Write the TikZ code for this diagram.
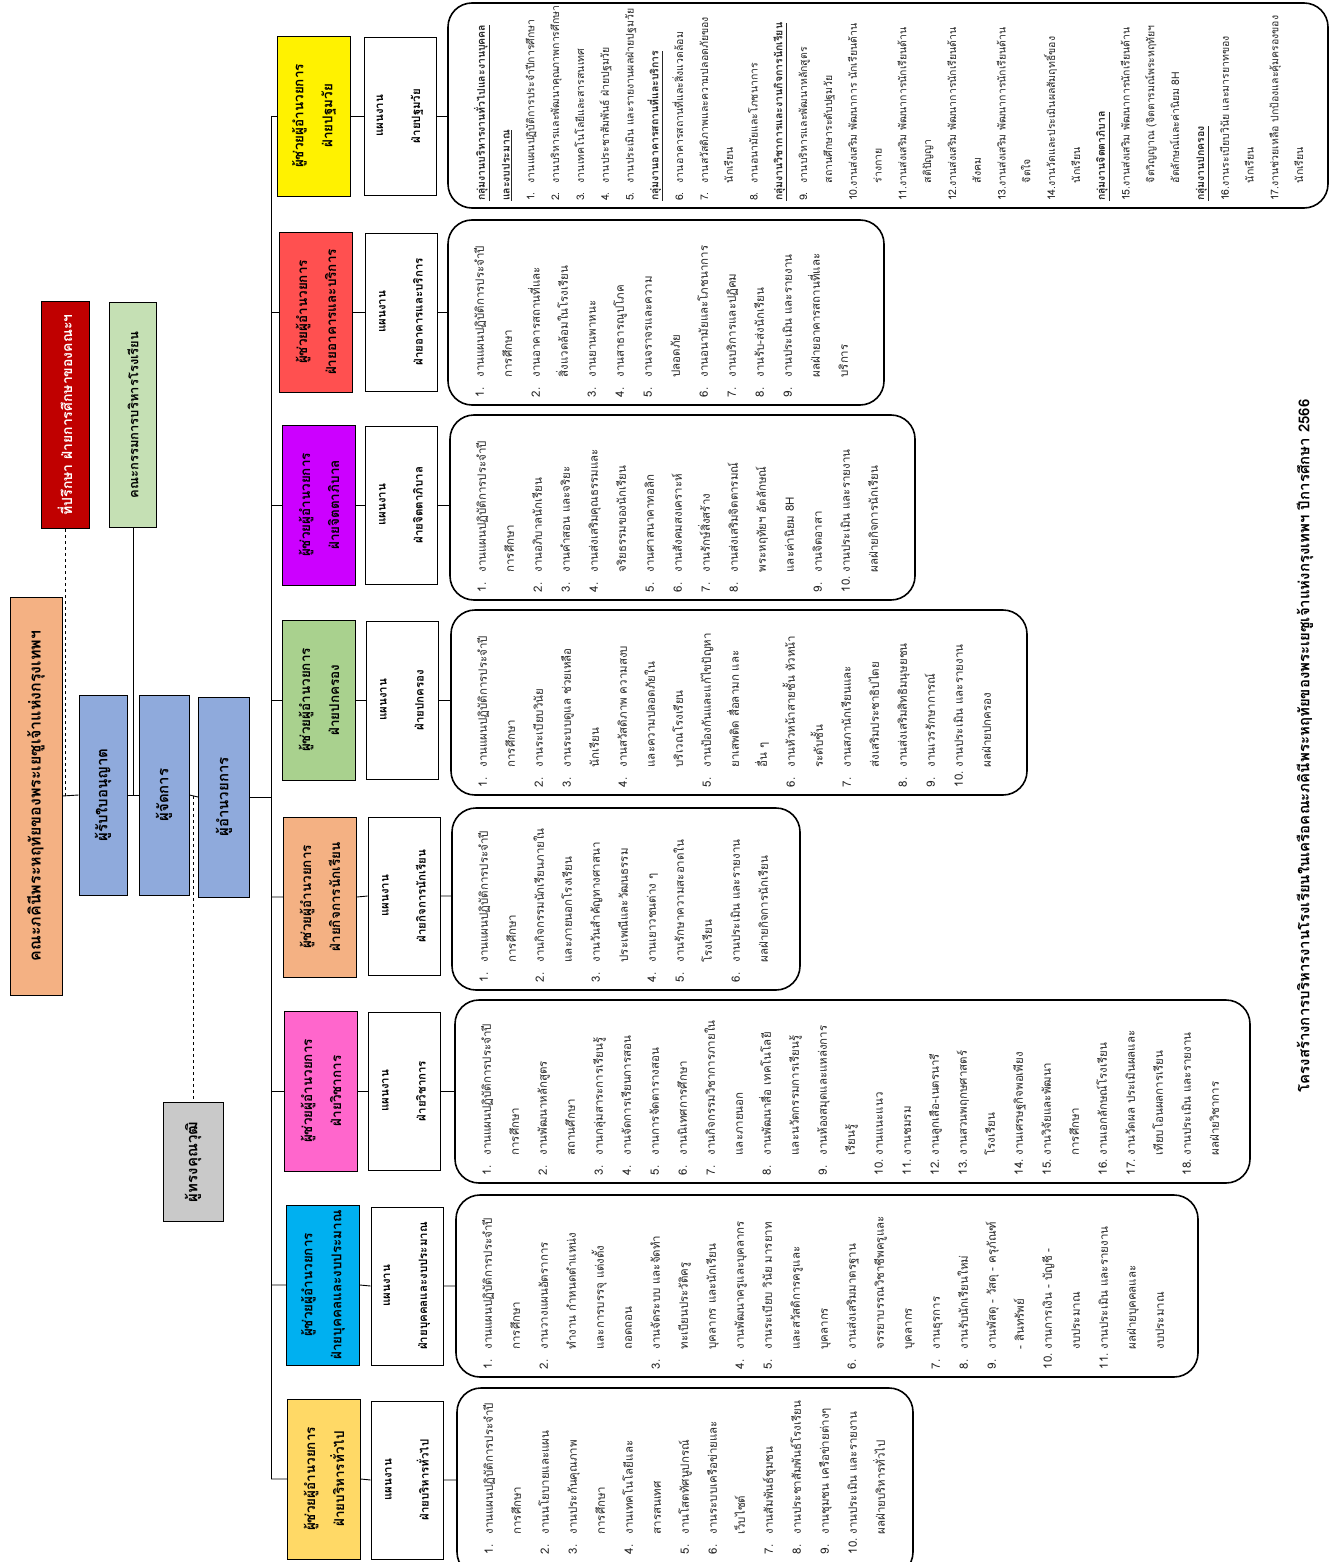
\documentclass[tikz,border=0pt]{standalone}
\usepackage{fontspec}
\setmainfont[Script=Thai]{Loma}
\usetikzlibrary{calc}
\definecolor{peach}{HTML}{F4B183}
\definecolor{darkred}{HTML}{C00000}
\definecolor{palegreen}{HTML}{C5E0B4}
\definecolor{bluebox}{HTML}{8FAADC}
\definecolor{graybox}{HTML}{C9C9C9}
\definecolor{gold}{HTML}{FFD966}
\definecolor{skyblue}{HTML}{00B0F0}
\definecolor{pinkbox}{HTML}{FF66CC}
\definecolor{leaf}{HTML}{A9D18E}
\definecolor{violet}{HTML}{CC00FF}
\definecolor{redbox}{HTML}{FF5050}
\newcommand\li[2]{\mbox{\makebox[1.7em][l]{#1}#2}}
\newcommand\lj[2]{\mbox{#1#2}}
\newcommand\grp[1]{\mbox{\underline{\textbf{#1}}}}
\newcommand\dlist[3]{\begin{minipage}[c][#2][t]{#1}\raggedright #3\end{minipage}}
\tikzset{
  link/.style={line width=0.9pt},
  topbox/.style={draw, line width=1pt, rotate=90, align=center, inner sep=2pt, font=\bfseries\fontsize{13}{16}\selectfont},
  headbox/.style={draw, line width=0.9pt, rotate=90, align=center, inner sep=2pt, minimum width=160pt, minimum height=73pt, font=\bfseries\fontsize{13.5}{29}\selectfont},
  planbox/.style={draw, line width=0.9pt, rotate=90, align=center, inner sep=2pt, minimum width=158pt, minimum height=72pt, font=\bfseries\fontsize{11.5}{37}\selectfont},
  detbox/.style={draw, line width=1.6pt, rounded corners=24pt, rotate=90, inner xsep=8pt, inner ysep=26pt, text=black!85, font=\fontsize{11.5}{28}\selectfont}
}
\begin{document}
\begin{tikzpicture}[x=1pt,y=-1pt]
\path[use as bounding box, fill=white] (0,0) rectangle (1330,1562);

\node[topbox, fill=peach, minimum width=398pt, minimum height=52pt, font=\bfseries\fontsize{16}{18}\selectfont] (found) at (36,796) {คณะภคินีพระหฤทัยของพระเยซูเจ้าแห่งกรุงเทพฯ};
\node[topbox, fill=darkred, text=white, minimum width=227pt, minimum height=48pt, font=\bfseries\fontsize{14}{16}\selectfont] (adv) at (65,415) {ที่ปรึกษา ฝ่ายการศึกษาของคณะฯ};
\node[topbox, fill=palegreen, minimum width=225pt, minimum height=47pt] (board) at (133,415) {คณะกรรมการบริหารโรงเรียน};
\node[topbox, fill=bluebox, minimum width=200pt, minimum height=48pt, font=\bfseries\fontsize{15}{18}\selectfont] (lic) at (103,795) {ผู้รับใบอนุญาต};
\node[topbox, fill=bluebox, minimum width=200pt, minimum height=50pt, font=\bfseries\fontsize{15}{18}\selectfont] (mgr) at (164,795) {ผู้จัดการ};
\node[topbox, fill=bluebox, minimum width=200pt, minimum height=51pt, font=\bfseries\fontsize{15}{18}\selectfont] (dir) at (224,797) {ผู้อำนวยการ};
\node[topbox, fill=graybox, minimum width=119pt, minimum height=60pt, font=\bfseries\fontsize{15}{18}\selectfont] (expert) at (193,1162) {ผู้ทรงคุณวุฒิ};

\node[headbox, fill=gold] (h1) at (324,1479) {ผู้ช่วยผู้อำนวยการ\\ฝ่ายบริหารทั่วไป};
\node[headbox, fill=skyblue] (h2) at (323,1285) {ผู้ช่วยผู้อำนวยการ\\ฝ่ายบุคคลและงบประมาณ};
\node[headbox, fill=pinkbox] (h3) at (321,1091) {ผู้ช่วยผู้อำนวยการ\\ฝ่ายวิชาการ};
\node[headbox, fill=peach] (h4) at (320,897) {ผู้ช่วยผู้อำนวยการ\\ฝ่ายกิจการนักเรียน};
\node[headbox, fill=leaf] (h5) at (319,700) {ผู้ช่วยผู้อำนวยการ\\ฝ่ายปกครอง};
\node[headbox, fill=violet] (h6) at (319,505) {ผู้ช่วยผู้อำนวยการ\\ฝ่ายจิตตาภิบาล};
\node[headbox, fill=redbox] (h7) at (316,312) {ผู้ช่วยผู้อำนวยการ\\ฝ่ายอาคารและบริการ};
\node[headbox, fill=yellow] (h8) at (314,116) {ผู้ช่วยผู้อำนวยการ\\ฝ่ายปฐมวัย};

\node[planbox] (p1) at (407,1480) {แผนงาน\\ฝ่ายบริหารทั่วไป};
\node[planbox] (p2) at (407,1286) {แผนงาน\\ฝ่ายบุคคลและงบประมาณ};
\node[planbox] (p3) at (404,1091) {แผนงาน\\ฝ่ายวิชาการ};
\node[planbox] (p4) at (404,896) {แผนงาน\\ฝ่ายกิจการนักเรียน};
\node[planbox] (p5) at (402,700) {แผนงาน\\ฝ่ายปกครอง};
\node[planbox] (p6) at (401,505) {แผนงาน\\ฝ่ายจิตตาภิบาล};
\node[planbox] (p7) at (401,312) {แผนงาน\\ฝ่ายอาคารและบริการ};
\node[planbox] (p8) at (400,116) {แผนงาน\\ฝ่ายปฐมวัย};

\node[detbox, inner xsep=22pt] (d1) at (685,1482) {\dlist{144pt}{404pt}{\li{1.}{งานแผนปฏิบัติการประจำปี}\\ \li{}{การศึกษา}\\ \li{2.}{งานนโยบายและแผน}\\ \li{3.}{งานประกันคุณภาพ}\\ \li{}{การศึกษา}\\ \li{4.}{งานเทคโนโลยีและ}\\ \li{}{สารสนเทศ}\\ \li{5.}{งานโสตทัศนูปกรณ์}\\ \li{6.}{งานระบบเครือข่ายและ}\\ \li{}{เว็บไซต์}\\ \li{7.}{งานสัมพันธ์ชุมชน}\\ \li{8.}{งานประชาสัมพันธ์โรงเรียน}\\ \li{9.}{งานชุมชน เครือข่ายต่างๆ}\\ \li{10.}{งานประเมิน และรายงาน}\\ \li{}{ผลฝ่ายบริหารทั่วไป}}};
\node[detbox] (d2) at (827,1286) {\dlist{166pt}{690pt}{\li{1.}{งานแผนปฏิบัติการประจำปี}\\ \li{}{การศึกษา}\\ \li{2.}{งานวางแผนอัตราการ}\\ \li{}{ทำงาน กำหนดตำแหน่ง}\\ \li{}{และการบรรจุ แต่งตั้ง}\\ \li{}{ถอดถอน}\\ \li{3.}{งานจัดระบบ และจัดทำ}\\ \li{}{ทะเบียนประวัติครู}\\ \li{}{บุคลากร และนักเรียน}\\ \li{4.}{งานพัฒนาครูและบุคลากร}\\ \li{5.}{งานระเบียบ วินัย มารยาท}\\ \li{}{และสวัสดิการครูและ}\\ \li{}{บุคลากร}\\ \li{6.}{งานส่งเสริมมาตรฐาน}\\ \li{}{จรรยาบรรณวิชาชีพครูและ}\\ \li{}{บุคลากร}\\ \li{7.}{งานธุรการ}\\ \li{8.}{งานรับนักเรียนใหม่}\\ \li{9.}{งานพัสดุ - วัสดุ - ครุภัณฑ์}\\ \li{}{- สินทรัพย์}\\ \li{10.}{งานการเงิน - บัญชี -}\\ \li{}{งบประมาณ}\\ \li{11.}{งานประเมิน และรายงาน}\\ \li{}{ผลฝ่ายบุคคลและ}\\ \li{}{งบประมาณ}}};
\node[detbox] (d3) at (852.5,1091.5) {\dlist{167pt}{743pt}{\li{1.}{งานแผนปฏิบัติการประจำปี}\\ \li{}{การศึกษา}\\ \li{2.}{งานพัฒนาหลักสูตร}\\ \li{}{สถานศึกษา}\\ \li{3.}{งานกลุ่มสาระการเรียนรู้}\\ \li{4.}{งานจัดการเรียนการสอน}\\ \li{5.}{งานการจัดตารางสอน}\\ \li{6.}{งานนิเทศการศึกษา}\\ \li{7.}{งานกิจกรรมวิชาการภายใน}\\ \li{}{และภายนอก}\\ \li{8.}{งานพัฒนาสื่อ เทคโนโลยี}\\ \li{}{และนวัตกรรมการเรียนรู้}\\ \li{9.}{งานห้องสมุดและแหล่งการ}\\ \li{}{เรียนรู้}\\ \li{10.}{งานแนะแนว}\\ \li{11.}{งานชมรม}\\ \li{12.}{งานลูกเสือ-เนตรนารี}\\ \li{13.}{งานสวนพฤกษศาสตร์}\\ \li{}{โรงเรียน}\\ \li{14.}{งานเศรษฐกิจพอเพียง}\\ \li{15.}{งานวิจัยและพัฒนา}\\ \li{}{การศึกษา}\\ \li{16.}{งานเอกลักษณ์โรงเรียน}\\ \li{17.}{งานวัดผล ประเมินผลและ}\\ \li{}{เทียบโอนผลการเรียน}\\ \li{18.}{งานประเมิน และรายงาน}\\ \li{}{ผลฝ่ายวิชาการ}}};
\node[detbox] (d4) at (626,899) {\dlist{166pt}{296pt}{\li{1.}{งานแผนปฏิบัติการประจำปี}\\ \li{}{การศึกษา}\\ \li{2.}{งานกิจกรรมนักเรียนภายใน}\\ \li{}{และภายนอกโรงเรียน}\\ \li{3.}{งานวันสำคัญทางศาสนา}\\ \li{}{ประเพณีและวัฒนธรรม}\\ \li{4.}{งานเยาวชนต่าง ๆ}\\ \li{5.}{งานรักษาความสะอาดใน}\\ \li{}{โรงเรียน}\\ \li{6.}{งานประเมิน และรายงาน}\\ \li{}{ผลฝ่ายกิจการนักเรียน}}};
\node[detbox] (d5) at (739,702.5) {\dlist{169pt}{524pt}{\li{1.}{งานแผนปฏิบัติการประจำปี}\\ \li{}{การศึกษา}\\ \li{2.}{งานระเบียบวินัย}\\ \li{3.}{งานระบบดูแล ช่วยเหลือ}\\ \li{}{นักเรียน}\\ \li{4.}{งานสวัสดิภาพ ความสงบ}\\ \li{}{และความปลอดภัยใน}\\ \li{}{บริเวณโรงเรียน}\\ \li{5.}{งานป้องกันและแก้ไขปัญหา}\\ \li{}{ยาเสพติด สื่อลามก และ}\\ \li{}{อื่น ๆ}\\ \li{6.}{งานหัวหน้าสายชั้น หัวหน้า}\\ \li{}{ระดับชั้น}\\ \li{7.}{งานสภานักเรียนและ}\\ \li{}{ส่งเสริมประชาธิปไตย}\\ \li{8.}{งานส่งเสริมสิทธิมนุษยชน}\\ \li{9.}{งานเวรรักษาการณ์}\\ \li{10.}{งานประเมิน และรายงาน}\\ \li{}{ผลฝ่ายปกครอง}}};
\node[detbox] (d6) at (682.5,507.5) {\dlist{169pt}{413pt}{\li{1.}{งานแผนปฏิบัติการประจำปี}\\ \li{}{การศึกษา}\\ \li{2.}{งานอภิบาลนักเรียน}\\ \li{3.}{งานคำสอน และจริยะ}\\ \li{4.}{งานส่งเสริมคุณธรรมและ}\\ \li{}{จริยธรรมของนักเรียน}\\ \li{5.}{งานศาสนาคาทอลิก}\\ \li{6.}{งานสังคมสงเคราะห์}\\ \li{7.}{งานรักษ์สิ่งสร้าง}\\ \li{8.}{งานส่งเสริมจิตตารมณ์}\\ \li{}{พระหฤทัยฯ อัตลักษณ์}\\ \li{}{และค่านิยม 8H}\\ \li{9.}{งานจิตอาสา}\\ \li{10.}{งานประเมิน และรายงาน}\\ \li{}{ผลฝ่ายกิจการนักเรียน}}};
\node[detbox] (d7) at (666,312.5) {\dlist{169pt}{384pt}{\li{1.}{งานแผนปฏิบัติการประจำปี}\\ \li{}{การศึกษา}\\ \li{2.}{งานอาคารสถานที่และ}\\ \li{}{สิ่งแวดล้อมในโรงเรียน}\\ \li{3.}{งานยานพาหนะ}\\ \li{4.}{งานสาธารณูปโภค}\\ \li{5.}{งานจราจรและความ}\\ \li{}{ปลอดภัย}\\ \li{6.}{งานอนามัยและโภชนาการ}\\ \li{7.}{งานบริการและปฏิคม}\\ \li{8.}{งานรับ-ส่งนักเรียน}\\ \li{9.}{งานประเมิน และรายงาน}\\ \li{}{ผลฝ่ายอาคารสถานที่และ}\\ \li{}{บริการ}}};
\node[detbox, inner xsep=7pt, font=\fontsize{10.5}{24.8}\selectfont] (d8) at (888,105.5) {\dlist{191pt}{828pt}{\grp{กลุ่มงานบริหารงานทั่วไปและงานบุคคล}\\ \grp{และงบประมาณ}\\ \li{1.}{งานแผนปฏิบัติการประจำปีการศึกษา}\\ \li{2.}{งานบริหารและพัฒนาคุณภาพการศึกษา}\\ \li{3.}{งานเทคโนโลยีและสารสนเทศ}\\ \li{4.}{งานประชาสัมพันธ์ ฝ่ายปฐมวัย}\\ \li{5.}{งานประเมิน และรายงานผลฝ่ายปฐมวัย}\\ \grp{กลุ่มงานอาคารสถานที่และบริการ}\\ \li{6.}{งานอาคารสถานที่และสิ่งแวดล้อม}\\ \li{7.}{งานสวัสดิภาพและความปลอดภัยของ}\\ \li{}{นักเรียน}\\ \li{8.}{งานอนามัยและโภชนาการ}\\ \grp{กลุ่มงานวิชาการและงานกิจการนักเรียน}\\ \li{9.}{งานบริหารและพัฒนาหลักสูตร}\\ \li{}{สถานศึกษาระดับปฐมวัย}\\ \lj{10.}{งานส่งเสริม พัฒนาการ นักเรียนด้าน}\\ \li{}{ร่างกาย}\\ \lj{11.}{งานส่งเสริม พัฒนาการนักเรียนด้าน}\\ \li{}{สติปัญญา}\\ \lj{12.}{งานส่งเสริม พัฒนาการนักเรียนด้าน}\\ \li{}{สังคม}\\ \lj{13.}{งานส่งเสริม พัฒนาการนักเรียนด้าน}\\ \li{}{จิตใจ}\\ \lj{14.}{งานวัดและประเมินผลสัมฤทธิ์ของ}\\ \li{}{นักเรียน}\\ \grp{กลุ่มงานจิตตาภิบาล}\\ \lj{15.}{งานส่งเสริม พัฒนาการนักเรียนด้าน}\\ \li{}{จิตวิญญาณ (จิตตารมณ์พระหฤทัยฯ}\\ \li{}{อัตลักษณ์และค่านิยม 8H}\\ \grp{กลุ่มงานปกครอง}\\ \lj{16.}{งานระเบียบวินัย และมารยาทของ}\\ \li{}{นักเรียน}\\ \lj{17.}{งานช่วยเหลือ ปกป้องและคุ้มครองของ}\\ \li{}{นักเรียน}}};

\node[rotate=90, font=\bfseries\fontsize{15}{18}\selectfont] (title) at (1305,746) {โครงสร้างการบริหารงานโรงเรียนในเครือคณะภคินีพระหฤทัยของพระเยซูเจ้าแห่งกรุงเทพฯ ปีการศึกษา 2566};

\coordinate (bt) at (271,116);
\coordinate (bb) at (271,1479);
\draw[link] (found.south) -- (lic.north);
\draw[link] (lic.south) -- (mgr.north);
\draw[link] (mgr.south) -- (dir.north);
\draw[link, dashed] (adv.west) -- (adv.west |- found.south);
\draw[link] (board.west) -- (board.west |- found.south);
\coordinate (mid) at ($(mgr.south)!0.5!(dir.north)$);
\draw[link, dashed] (mid) -- (mid |- expert.east);
\draw[link] (dir.south) -- (dir.south -| bt);
\draw[link] (bt) -- (bb);
\foreach \i in {1,...,8}
  \draw[link] (h\i.north -| bt) -- (h\i.north) (h\i.south) -- (p\i.north) (p\i.south) -- (p\i.south -| d\i.north);
\end{tikzpicture}
\end{document}
